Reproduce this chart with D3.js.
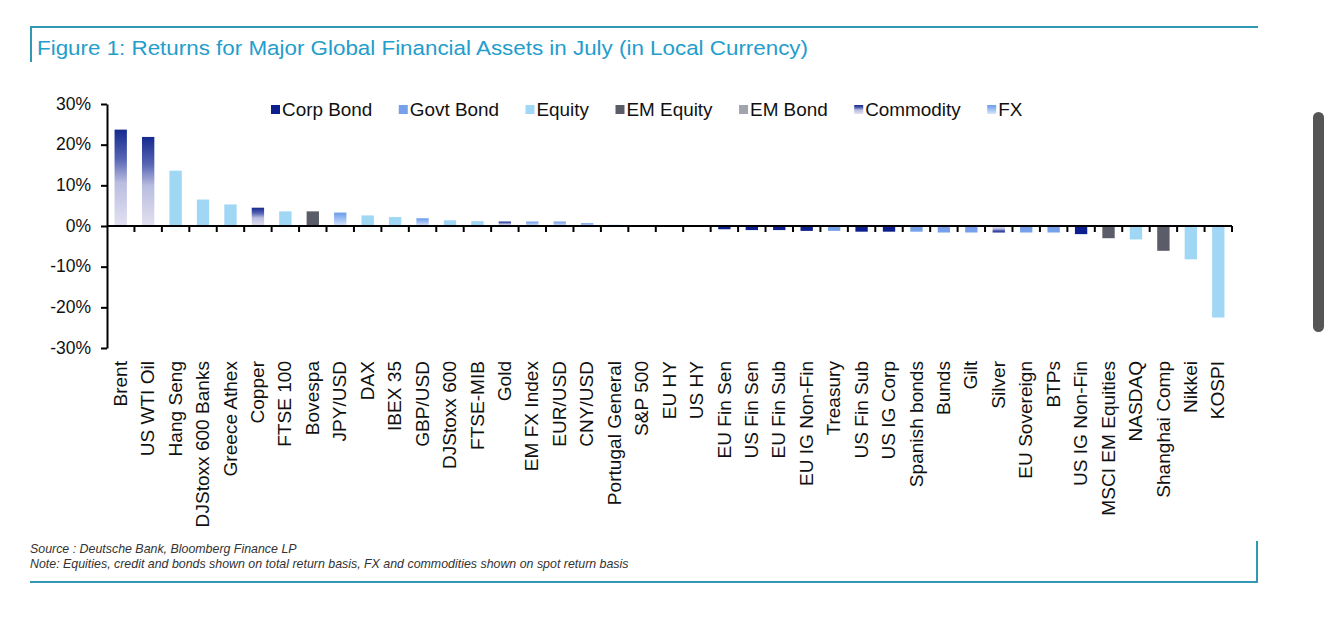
<!DOCTYPE html>
<html>
<head>
<meta charset="utf-8">
<script src="https://d3js.org/d3.v7.min.js"></script>
<style>
  html, body { margin: 0; padding: 0; background: #fff; }
  svg { display: block; font-family: 'Liberation Sans', Arial, sans-serif; }
</style>
</head>
<body>
<svg id="chart" width="1329" height="644"></svg>
<script>
// categories as they sit on the x axis (sorted by July return)
var categories = [
  'Brent', 'US WTI Oil', 'Hang Seng', 'DJStoxx 600 Banks', 'Greece Athex', 'Copper',
  'FTSE 100', 'Bovespa', 'JPY/USD', 'DAX', 'IBEX 35', 'GBP/USD', 'DJStoxx 600',
  'FTSE-MIB', 'Gold', 'EM FX Index', 'EUR/USD', 'CNY/USD', 'Portugal General',
  'S&P 500', 'EU HY', 'US HY', 'EU Fin Sen', 'US Fin Sen', 'EU Fin Sub',
  'EU IG Non-Fin', 'Treasury', 'US Fin Sub', 'US IG Corp', 'Spanish bonds', 'Bunds',
  'Gilt', 'Silver', 'EU Sovereign', 'BTPs', 'US IG Non-Fin', 'MSCI EM Equities',
  'NASDAQ', 'Shanghai Comp', 'Nikkei', 'KOSPI'
]
// returns in %
var returnValues = [
  23.7, 21.9, 13.6, 6.5, 5.3, 4.5,
  3.6, 3.6, 3.3, 2.6, 2.2, 1.9, 1.4,
  1.2, 1.1, 1.1, 1.1, 0.7, 0.3,
  0.2, 0.1, -0.2, -0.8, -1.0, -1.0,
  -1.2, -1.2, -1.4, -1.4, -1.4, -1.6,
  -1.6, -1.6, -1.6, -1.6, -2.0, -3.0,
  -3.3, -6.1, -8.2, -22.5
]
// asset class of every bar
var assetClasses = [
  'Commodity', 'Commodity', 'Equity', 'Equity', 'Equity', 'Commodity',
  'Equity', 'EM Equity', 'FX', 'Equity', 'Equity', 'FX', 'Equity',
  'Equity', 'Commodity', 'FX', 'FX', 'FX', 'Equity',
  'Equity', 'Corp Bond', 'Corp Bond', 'Corp Bond', 'Corp Bond', 'Corp Bond',
  'Corp Bond', 'Govt Bond', 'Corp Bond', 'Corp Bond', 'Govt Bond', 'Govt Bond',
  'Govt Bond', 'Commodity', 'Govt Bond', 'Govt Bond', 'Corp Bond', 'EM Equity',
  'Equity', 'EM Equity', 'Equity', 'Equity'
]
var legendLabels = ['Corp Bond', 'Govt Bond', 'Equity', 'EM Equity', 'EM Bond', 'Commodity', 'FX']
var yTickValues = [30, 20, 10, 0, -10, -20, -30]

var titleText = 'Figure 1: Returns for Major Global Financial Assets in July (in Local Currency)'
var sourceText = 'Source : Deutsche Bank, Bloomberg Finance LP'
var noteText = 'Note: Equities, credit and bonds shown on total return basis, FX and commodities shown on spot return basis'

var solidColors = {
  'Corp Bond': '#0c1f8c',
  'Govt Bond': '#76a0e9',
  'Equity': '#9fd7f5',
  'EM Equity': '#5a5c68',
  'EM Bond': '#a2a4ad'
}
var frameColor = '#3199b3'
var titleColor = '#239dcc'
// the source font is a bit wider than Liberation Sans
var widen = 1.09

var svg = d3.select('#chart')
var defs = svg.append('defs')

function add_gradient (id, stops, reverse) {
  var g = defs.append('linearGradient')
    .attr('id', id)
    .attr('x1', 0).attr('y1', reverse ? 1 : 0)
    .attr('x2', 0).attr('y2', reverse ? 0 : 1)
  stops.forEach(function (s) {
    g.append('stop').attr('offset', s[0]).attr('stop-color', s[1])
  })
}
var commodityStops = [[0, '#142a8e'], [0.3, '#5563b3'], [0.55, '#b9bde0'], [1, '#e3e1f0']]
var fxStops = [[0, '#699ceb'], [0.5, '#9fc0f2'], [1, '#d9e6f9']]
add_gradient('grad-commodity', commodityStops, false)
add_gradient('grad-commodity-neg', commodityStops, true)
add_gradient('grad-fx', fxStops, false)
add_gradient('grad-fx-neg', fxStops, true)

function fill_for (cls, v) {
  if (cls === 'Commodity') return v < 0 ? 'url(#grad-commodity-neg)' : 'url(#grad-commodity)'
  if (cls === 'FX') return v < 0 ? 'url(#grad-fx-neg)' : 'url(#grad-fx)'
  return solidColors[cls]
}

// frame lines + title
svg.append('line').attr('x1', 30).attr('x2', 1258).attr('y1', 27).attr('y2', 27)
  .attr('stroke', frameColor).attr('stroke-width', 2)
svg.append('line').attr('x1', 31).attr('x2', 31).attr('y1', 27).attr('y2', 62)
  .attr('stroke', frameColor).attr('stroke-width', 2)
svg.append('line').attr('x1', 30).attr('x2', 1258).attr('y1', 582).attr('y2', 582)
  .attr('stroke', frameColor).attr('stroke-width', 2)
svg.append('line').attr('x1', 1257).attr('x2', 1257).attr('y1', 541).attr('y2', 582)
  .attr('stroke', frameColor).attr('stroke-width', 2)

svg.append('text')
  .attr('x', 37).attr('y', 55)
  .attr('fill', titleColor)
  .attr('textLength', 771)
  .attr('lengthAdjust', 'spacingAndGlyphs')
  .style('font-size', '20.5px')
  .text(titleText)

// scales
var y = d3.scaleLinear().domain([-30, 30]).range([348, 104])
var x = d3.scaleBand().domain(categories).range([107, 1232])
  .paddingInner(0.55).paddingOuter(0.275)

var data = categories.map(function (c, i) {
  return { name: c, value: returnValues[i], cls: assetClasses[i] }
})

// bars
svg.append('g').attr('id', 'bars')
  .selectAll('rect')
  .data(data)
  .enter()
  .append('rect')
  .attr('x', function (d) { return x(d.name) })
  .attr('width', x.bandwidth())
  .attr('y', function (d) { return d.value >= 0 ? y(d.value) : y(0) })
  .attr('height', function (d) { return Math.abs(y(d.value) - y(0)) })
  .attr('fill', function (d) { return fill_for(d.cls, d.value) })

// y axis
var yAxis = d3.axisLeft(y)
  .tickValues(yTickValues)
  .tickSize(6)
  .tickSizeOuter(0)
  .tickPadding(10)
  .tickFormat(function (d) { return d + '%' })
var yG = svg.append('g')
  .attr('transform', 'translate(' + x.range()[0] + ',0)')
  .call(yAxis)
yG.select('.domain').attr('stroke', '#000').attr('stroke-width', 2)
yG.selectAll('.tick line').attr('stroke', '#000').attr('stroke-width', 2)
yG.selectAll('.tick text')
  .attr('fill', '#111')
  .attr('dy', '0.3em')
  .style('font-size', '17.5px')
  .style('font-family', "'Liberation Sans', Arial, sans-serif")

// x axis at zero with ticks between categories
var gap = x.step() - x.bandwidth()
var boundaries = categories.map(function (c) { return x(c) - gap / 2 })
boundaries.push(x(categories[categories.length - 1]) + x.bandwidth() + gap / 2)
var xG = svg.append('g').attr('id', 'x-axis')
xG.append('line')
  .attr('x1', x.range()[0]).attr('x2', x.range()[1])
  .attr('y1', y(0)).attr('y2', y(0))
  .attr('stroke', '#000').attr('stroke-width', 2)
xG.selectAll('.xtick')
  .data(boundaries.slice(1))
  .enter()
  .append('line')
  .attr('class', 'xtick')
  .attr('x1', function (d) { return d }).attr('x2', function (d) { return d })
  .attr('y1', y(0)).attr('y2', y(0) + 6)
  .attr('stroke', '#000').attr('stroke-width', 2)

// category labels, rotated
svg.append('g').attr('id', 'x-labels')
  .selectAll('text')
  .data(categories)
  .enter()
  .append('text')
  .attr('transform', function (d) {
    return 'translate(' + (x(d) + x.bandwidth() / 2) + ',361) rotate(-90) scale(' + widen + ',1)'
  })
  .attr('text-anchor', 'end')
  .attr('dy', '0.35em')
  .attr('fill', '#111')
  .style('font-size', '17.5px')
  .text(function (d) { return d })

// legend, laid out left to right
var legendG = svg.append('g').attr('id', 'legend').attr('transform', 'translate(271,0)')
var legendX = 0
legendLabels.forEach(function (lab) {
  var item = legendG.append('g').attr('transform', 'translate(' + legendX + ',0)')
  item.append('rect')
    .attr('x', 0).attr('y', 105)
    .attr('width', 9).attr('height', 9)
    .attr('fill', lab === 'Commodity' ? 'url(#grad-commodity)' : (lab === 'FX' ? 'url(#grad-fx)' : solidColors[lab]))
  var t = item.append('text')
    .attr('transform', 'translate(11,116) scale(1.05,1)')
    .attr('fill', '#111')
    .style('font-size', '18px')
    .text(lab)
  legendX += 11 + t.node().getComputedTextLength() * 1.05 + 26.5
})

// source / note
svg.append('text')
  .attr('x', 30).attr('y', 553)
  .attr('fill', '#333')
  .style('font-size', '12.4px')
  .style('font-style', 'italic')
  .text(sourceText)
svg.append('text')
  .attr('x', 30).attr('y', 568)
  .attr('fill', '#333')
  .style('font-size', '12.4px')
  .style('font-style', 'italic')
  .text(noteText)

// scroll bar seen on the right edge of the screenshot
svg.append('rect')
  .attr('x', 1313).attr('y', 112)
  .attr('width', 11).attr('height', 220)
  .attr('rx', 5.5)
  .attr('fill', '#555')
</script>
</body>
</html>
